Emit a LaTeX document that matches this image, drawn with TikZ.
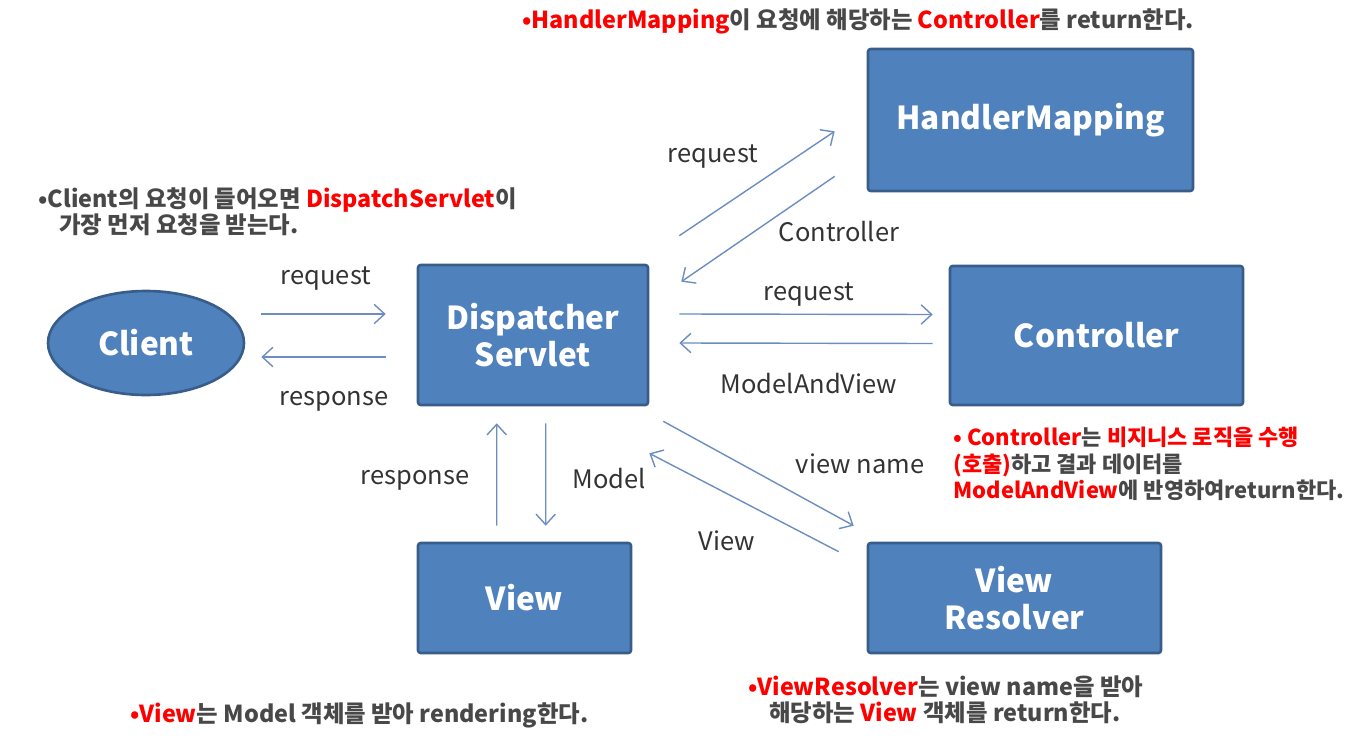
\documentclass[tikz,border=0pt]{standalone}
\usepackage{fontspec}
\setmainfont{Noto Sans CJK KR}
\usetikzlibrary{arrows.meta,positioning,calc,shapes.geometric}
\definecolor{boxblue}{RGB}{79,129,189}
\definecolor{boxedge}{RGB}{56,93,138}
\definecolor{flowblue}{RGB}{108,142,191}
\definecolor{notegray}{RGB}{72,72,72}
\definecolor{notered}{RGB}{255,0,0}
\newcommand{\hl}[1]{\textcolor{notered}{#1}}

\begin{document}
\begin{tikzpicture}[x=0.02cm,y=-0.02cm,
  block/.style={rectangle,draw=boxedge,line width=1.5pt,fill=boxblue,rounded corners=1.5pt,
    text=white,font=\fontsize{18}{21}\selectfont\bfseries,align=center,inner sep=0pt},
  flow/.style={-{Straight Barb[length=6pt,width=11pt]},draw=flowblue,line width=0.8pt},
  lbl/.style={font=\fontsize{14.5}{17}\selectfont,text=black!80},
  note/.style={font=\fontsize{13.3}{15}\selectfont\bfseries,text=notegray,align=left,inner sep=0pt}]
\useasboundingbox (0,0) rectangle (1347,744);
% Components
\node[ellipse,draw=boxedge,line width=1.5pt,fill=boxblue,inner sep=0pt,minimum width=3.92cm,minimum height=2.08cm,
  text=white,font=\fontsize{18}{21}\selectfont\bfseries] (client) at (146,343) {Client};
\node[block,minimum width=4.6cm,minimum height=2.8cm] (disp) at (533,335) {Dispatcher\\Servlet};
\node[block,minimum width=6.5cm,minimum height=2.84cm] (hm) at (1030.5,120) {HandlerMapping};
\node[block,minimum width=5.86cm,minimum height=2.78cm] (ctrl) at (1096.5,335.5) {Controller};
\node[block,minimum width=4.26cm,minimum height=2.2cm] (view) at (524.5,598) {View};
\node[block,minimum width=5.86cm,minimum height=2.2cm] (vr) at (1014.5,598) {View\\Resolver};
% Client <-> DispatcherServlet
\draw[flow] ($(client.east)+(16,-29)$) -- ($(disp.west)+(-31,-21)$);
\draw[flow] ($(disp.west)+(-31,22)$) -- ($(client.east)+(16,14)$);
\node[lbl] (req1) at (326,279) {request};
\node[lbl] (resp1) at (334,401) {response};
% DispatcherServlet <-> HandlerMapping
\draw[flow] ($(disp.north east)+(30,-28)$) -- ($(hm.south west)+(-32,-61)$);
\draw[flow] ($(hm.south west)+(-32,-16)$) -- ($(disp.north east)+(32,18)$);
\node[lbl] (req2) at (713,157) {request};
\node[lbl] (ret2) at (839,232) {Controller};
% DispatcherServlet <-> Controller
\draw[flow] ($(disp.east)+(30,-21)$) -- ($(ctrl.west)+(-16,-21)$);
\draw[flow] ($(ctrl.west)+(-16,8)$) -- ($(disp.east)+(30,8)$);
\node[lbl] (req3) at (809,295) {request};
\node[lbl] (ret3) at (809,384) {ModelAndView};
% DispatcherServlet <-> ViewResolver
\draw[flow] ($(disp.south east)+(14,15)$) -- ($(vr.north west)+(-13,-16)$);
\draw[flow] ($(vr.north west)+(-28,10)$) -- ($(disp.south east)+(0,47)$);
\node[lbl] (req4) at (860,464) {view name};
\node[lbl] (ret4) at (727,541) {View};
% DispatcherServlet <-> View
\draw[flow] ($(view.north west)+(80,-16)$) -- ($(disp.south west)+(80,17)$);
\draw[flow] ($(disp.south west)+(129,17)$) -- ($(view.north west)+(129,-16)$);
\node[lbl] (resp5) at (415,480) {response};
\node[lbl] (model5) at (609,479) {Model};
% Notes
\node[note,anchor=base west] (notehm) at (522,28) {\hl{•HandlerMapping}이 요청에 해당하는 \hl{Controller}를 return한다.};
\node[note,anchor=north west] (noteclient) at (38,187) {•Client의 요청이 들어오면 \hl{DispatchServlet}이\\\hspace*{0.9em}가장 먼저 요청을 받는다.};
\node[note,anchor=north west,font=\fontsize{12.5}{15}\selectfont\bfseries] (notectrl) at (953,427) {\hl{• Controller}는 \hl{비지니스 로직을 수행}\\\hl{(호출)}하고 결과 데이터를\\\hl{ModelAndView}에 반영하여return한다.};
\node[note,anchor=north west] (notevr) at (748,675) {\hl{•ViewResolver}는 view name을 받아\\\hspace*{0.9em}해당하는 \hl{View} 객체를 return한다.};
\node[note,anchor=base west] (noteview) at (130,722) {\hl{•View}는 Model 객체를 받아 rendering한다.};
\end{tikzpicture}
\end{document}
